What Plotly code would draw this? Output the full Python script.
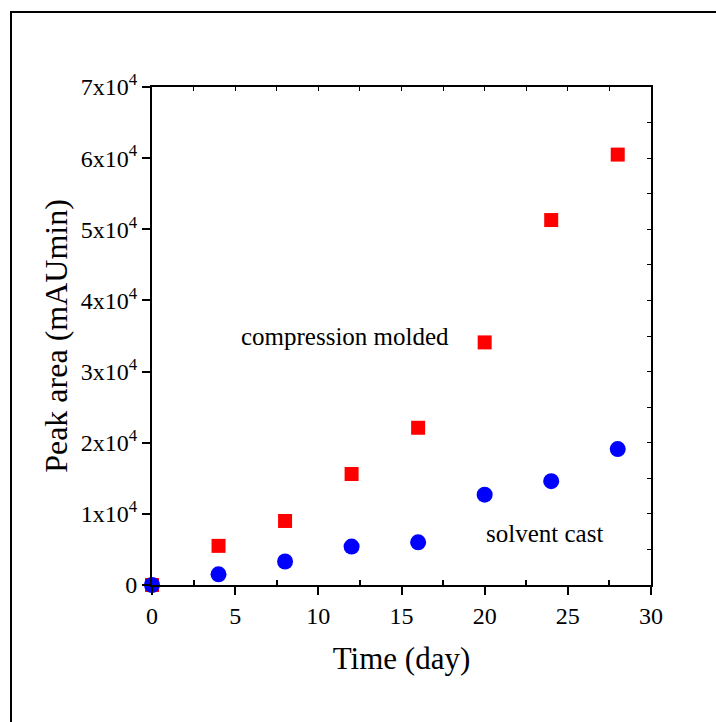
import plotly.graph_objects as go

days = [0, 4, 8, 12, 16, 20, 24, 28]
compression_molded = [0, 5500, 9000, 15600, 22100, 34100, 51300, 60500]
solvent_cast = [0, 1500, 3300, 5400, 6000, 12700, 14600, 19100]

x_ticks = [0, 5, 10, 15, 20, 25, 30]
y_ticks = [0, 10000, 20000, 30000, 40000, 50000, 60000, 70000]
y_tick_text = ["0"] + [f"{i}x10<sup>4</sup>" for i in range(1, 8)]

W, H = 716, 722
L, R, T, B = 152, 65, 87, 137
pw, ph = W - L - R, H - T - B

font = "Liberation Serif"

fig = go.Figure()
fig.add_trace(go.Scatter(x=days, y=compression_molded, mode="markers",
                         marker=dict(symbol="square", size=14, color="#ff0000"),
                         cliponaxis=False, name="compression molded"))
fig.add_trace(go.Scatter(x=days, y=solvent_cast, mode="markers",
                         marker=dict(symbol="circle", size=16, color="#0000ff"),
                         cliponaxis=False, name="solvent cast"))
# invisible trace to activate the mirror axes
fig.add_trace(go.Scatter(x=[None], y=[None], xaxis="x2", yaxis="y2",
                         showlegend=False, hoverinfo="skip"))

fig.update_layout(
    width=W, height=H,
    margin=dict(l=L, r=R, t=T, b=B),
    paper_bgcolor="white", plot_bgcolor="white",
    showlegend=False,
    font=dict(family=font, color="black", size=20),
    xaxis=dict(range=[0, 30], tickvals=x_ticks, ticks="outside", ticklen=8,
               tickwidth=2, tickcolor="black", showline=True, linewidth=2,
               linecolor="black", showgrid=False, zeroline=False,
               tickfont=dict(size=24, family=font, color="black"),
               title=dict(text="Time (day)", font=dict(size=31, family=font, color="black"), standoff=20),
               minor=dict(tickvals=[2.5, 7.5, 12.5, 17.5, 22.5, 27.5], ticks="inside",
                          ticklen=5, tickwidth=1.5, tickcolor="black", showgrid=False)),
    yaxis=dict(range=[0, 70000], tickvals=y_ticks, ticktext=y_tick_text,
               ticks="outside", ticklen=8, tickwidth=2, tickcolor="black",
               showline=True, linewidth=2, linecolor="black", showgrid=False,
               zeroline=False, tickfont=dict(size=24, family=font, color="black"),
               title=dict(text="Peak area (mAUmin)", font=dict(size=32, family=font, color="black"), standoff=4)),
    xaxis2=dict(overlaying="x", side="top", range=[0, 30], dtick=2.5, tick0=0,
                ticks="inside", ticklen=4, tickwidth=1, tickcolor="black",
                showticklabels=False, showline=True, linewidth=2, linecolor="black",
                showgrid=False, zeroline=False),
    yaxis2=dict(overlaying="y", side="right", range=[0, 70000], dtick=5000, tick0=0,
                ticks="inside", ticklen=4, tickwidth=1, tickcolor="black",
                showticklabels=False, showline=True, linewidth=2, linecolor="black",
                showgrid=False, zeroline=False),
)

fig.add_annotation(x=11.6, y=35000, text="compression molded", showarrow=False,
                   font=dict(size=25, family=font, color="black"))
fig.add_annotation(x=23.6, y=7300, text="solvent cast", showarrow=False,
                   font=dict(size=25, family=font, color="black"))

# outer frame
fig.add_shape(type="rect", xref="paper", yref="paper",
              x0=(11 - L) / pw, x1=(W + 10 - L) / pw,
              y0=-(H + 10 - T - ph) / ph, y1=(H - B - 12) / ph,
              line=dict(color="black", width=2), fillcolor="rgba(0,0,0,0)")

fig.write_html("out.html", config={"displayModeBar": False},
               post_script="document.body.style.margin='0';document.body.style.overflow='hidden';")
